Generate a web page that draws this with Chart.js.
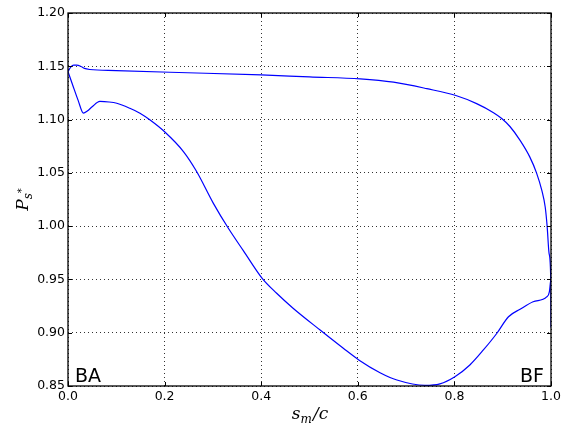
<!DOCTYPE html>
<html>
<head>
<meta charset="utf-8">
<script src="https://cdn.jsdelivr.net/npm/chart.js@4"></script>
<style>
html,body{margin:0;padding:0;background:#fff;}
#wrap{width:572px;height:428px;position:relative;}
</style>
</head>
<body>
<div id="wrap"><canvas id="c" width="572" height="428"></canvas></div>
<script>
// Upper curve
const upperX = [0.000,0.006,0.012,0.018,0.026,0.034,0.045,0.100,0.211,0.400,0.500,0.605,0.674,0.743,0.803,0.846,0.881,0.898,0.915,0.936,0.956,0.970,0.981,0.988,0.992,0.996,0.9995,1.000];
const upperY = [1.145,1.1495,1.151,1.151,1.150,1.148,1.147,1.146,1.1444,1.1419,1.140,1.1382,1.1351,1.129,1.1226,1.1150,1.1065,1.1010,1.0935,1.0805,1.065,1.050,1.0335,1.018,1.000,0.9745,0.950,0.905];
// Lower curve
const lowerX = [0.000,0.010,0.021,0.032,0.040,0.050,0.066,0.085,0.101,0.128,0.149,0.170,0.200,0.239,0.266,0.301,0.332,0.363,0.402,0.432,0.466,0.522,0.570,0.602,0.646,0.681,0.739,0.770,0.801,0.832,0.860,0.888,0.912,0.936,0.963,0.991,0.9966,0.999,1.000];
const lowerY = [1.145,1.132,1.118,1.106,1.108,1.112,1.117,1.1165,1.1153,1.1106,1.106,1.0996,1.0886,1.0700,1.0515,1.0214,0.998,0.977,0.951,0.937,0.923,0.9025,0.8854,0.8745,0.8625,0.8556,0.8506,0.852,0.8587,0.8697,0.8838,0.8995,0.915,0.922,0.929,0.9336,0.9383,0.9477,0.950];
const xTicks = [0.0,0.2,0.4,0.6,0.8,1.0];
const yTicks = [0.85,0.90,0.95,1.00,1.05,1.10,1.15,1.20];
const cornerLabels = ["BA","BF"];

const toPts = (xs, ys) => xs.map((x,i)=>({x:x,y:ys[i]}));

const framePlugin = {
  id:'frame',
  afterDraw(chart){
    const ctx = chart.ctx, a = chart.chartArea;
    const xs = chart.scales.x, ys = chart.scales.y;
    ctx.save();
    ctx.strokeStyle='#000'; ctx.lineWidth=1;
    ctx.beginPath();
    xTicks.forEach(v=>{
      const px = Math.round(xs.getPixelForValue(v))+0.5;
      ctx.moveTo(px,a.bottom); ctx.lineTo(px,a.bottom-4);
      ctx.moveTo(px,a.top); ctx.lineTo(px,a.top+4);
    });
    yTicks.forEach(v=>{
      const py = Math.round(ys.getPixelForValue(v))+0.5;
      ctx.moveTo(a.left,py); ctx.lineTo(a.left+4,py);
      ctx.moveTo(a.right,py); ctx.lineTo(a.right-4,py);
    });
    ctx.stroke();
    ctx.lineWidth=1.3;
    ctx.strokeRect(a.left,a.top,a.right-a.left,a.bottom-a.top);
    ctx.fillStyle='#000';
    ctx.font='19px "DejaVu Sans"';
    ctx.textBaseline='alphabetic';
    ctx.textAlign='left';
    ctx.fillText(cornerLabels[0], a.left+7, a.bottom-4);
    ctx.textAlign='right';
    ctx.fillText(cornerLabels[1], a.right-7, a.bottom-4);
    const cx = (a.left+a.right)/2, ty = 419;
    ctx.textAlign='left';
    const f1='italic 17px "DejaVu Serif"', f2='italic 12px "DejaVu Serif"';
    ctx.font=f1; const wS=ctx.measureText('s').width;
    ctx.font=f2; const wM=ctx.measureText('m').width;
    ctx.font=f1; const wR=ctx.measureText('/c').width;
    let x0 = cx - (wS+wM+wR)/2;
    ctx.font=f1; ctx.fillText('s',x0,ty);
    ctx.font=f2; ctx.fillText('m',x0+wS,ty+4);
    ctx.font=f1; ctx.fillText('/c',x0+wS+wM+1,ty);
    ctx.translate(28,(a.top+a.bottom)/2);
    ctx.rotate(-Math.PI/2);
    ctx.font=f1; const wP=ctx.measureText('P').width;
    ctx.font=f2; const ws=ctx.measureText('s').width;
    ctx.font='10px "DejaVu Sans"'; const wst=ctx.measureText('*').width;
    let y0 = -(wP+ws+wst)/2;
    ctx.font=f1; ctx.fillText('P',y0,0);
    ctx.font=f2; ctx.fillText('s',y0+wP,4);
    ctx.font='10px "DejaVu Sans"'; ctx.fillText('*',y0+wP+ws,-3);
    ctx.restore();
  }
};

new Chart(document.getElementById('c'),{
  type:'scatter',
  data:{datasets:[
    {data:toPts(upperX,upperY),showLine:true,borderColor:'#0000ff',borderWidth:1.2,pointRadius:0,cubicInterpolationMode:'monotone',fill:false},
    {data:toPts(lowerX,lowerY),showLine:true,borderColor:'#0000ff',borderWidth:1.2,pointRadius:0,cubicInterpolationMode:'monotone',fill:false}
  ]},
  options:{
    responsive:false,animation:false,
    layout:{padding:{top:13,right:21,left:0,bottom:0}},
    plugins:{legend:{display:false},tooltip:{enabled:false}},
    scales:{
      x:{type:'linear',min:0,max:1,
        afterBuildTicks(s){s.ticks=xTicks.map(v=>({value:v}));},
        afterFit(s){s.height=42;},
        ticks:{color:'#000',font:{family:'DejaVu Sans',size:12.5},padding:3,maxRotation:0,
          callback:v=>Number(v).toFixed(1)},
        grid:{color:'rgba(0,0,0,0.8)',lineWidth:1,drawTicks:false},
        border:{display:false,dash:[1,3]}
      },
      y:{type:'linear',min:0.85,max:1.20,
        afterBuildTicks(s){s.ticks=yTicks.map(v=>({value:v}));},
        afterFit(s){s.width=68;},
        ticks:{color:'#000',font:{family:'DejaVu Sans',size:12.5},padding:3,
          callback:v=>Number(v).toFixed(2)},
        grid:{color:'rgba(0,0,0,0.8)',lineWidth:1,drawTicks:false},
        border:{display:false,dash:[1,3]}
      }
    }
  },
  plugins:[framePlugin]
});
</script>
</body>
</html>
